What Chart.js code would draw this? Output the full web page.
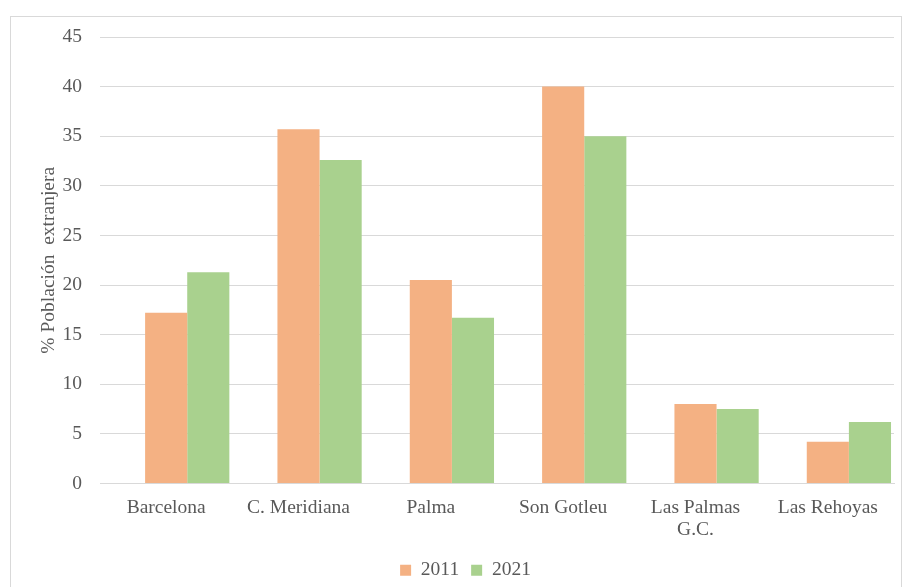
<!DOCTYPE html>
<html>
<head>
<meta charset="utf-8">
<script src="https://cdn.jsdelivr.net/npm/chart.js@4"></script>
<style>
  html, body { margin: 0; padding: 0; background: #fff; }
  #wrap { position: relative; width: 905px; height: 587px; overflow: hidden; }
  #frame { position: absolute; left: 10px; top: 16px; width: 892px; height: 600px; border: 1px solid #d9d9d9; box-sizing: border-box; }
  canvas { position: absolute; left: 0; top: 0; }
</style>
</head>
<body>
<div id="wrap">
  <div id="frame"></div>
  <canvas id="chart" width="905" height="587"></canvas>
</div>
<script>
// barrios y porcentaje de población extranjera
const categories = ['Barcelona', 'C. Meridiana', 'Palma', 'Son Gotleu', ['Las Palmas', 'G.C.'], 'Las Rehoyas'];
const values2011 = [17.2, 35.7, 20.5, 40.0, 8.0, 4.2];
const values2021 = [21.3, 32.6, 16.7, 35.0, 7.5, 6.2];
const emptySeries = [null, null, null, null, null, null]; // la serie vacía que desplaza las barras
const yTicks = [0, 5, 10, 15, 20, 25, 30, 35, 40, 45];

const textColor = '#595959';
const serif = "'Liberation Serif', 'Times New Roman', serif";
const fontSize = 19.5;

const ctx = document.getElementById('chart').getContext('2d');

new Chart(ctx, {
    type: 'bar',
    data: {
        labels: categories,
        datasets: [
            { label: '', data: emptySeries, backgroundColor: 'rgba(0,0,0,0)' },
            { label: '2011', data: values2011, backgroundColor: '#F4B183' },
            { label: '2021', data: values2021, backgroundColor: '#A9D18E' }
        ]
    },
    options: {
        responsive: false,
        animation: false,
        layout: { padding: { left: 37, right: 11, top: 37, bottom: -3 } },
        datasets: {
            bar: { categoryPercentage: 0.955, barPercentage: 1.0 }
        },
        plugins: {
            legend: {
                position: 'bottom',
                labels: {
                    filter: item => item.text !== '',
                    boxWidth: 11,
                    boxHeight: 11,
                    padding: 12,
                    color: textColor,
                    font: { family: serif, size: fontSize }
                }
            },
            tooltip: { enabled: false }
        },
        scales: {
            x: {
                grid: { display: false },
                border: { color: '#d9d9d9', width: 1 },
                ticks: {
                    color: textColor,
                    font: { family: serif, size: fontSize, lineHeight: 1.15 },
                    maxRotation: 0,
                    padding: 5
                },
                afterFit: scale => { scale.height = 65; }
            },
            y: {
                min: 0,
                max: 45,
                afterBuildTicks: scale => { scale.ticks = yTicks.map(v => ({ value: v })); },
                grid: { color: '#d9d9d9', drawTicks: false },
                border: { display: false },
                ticks: {
                    color: textColor,
                    font: { family: serif, size: fontSize },
                    padding: 18
                },
                title: {
                    display: true,
                    text: '% Población  extranjera',
                    color: textColor,
                    font: { family: serif, size: fontSize },
                    padding: 0
                },
                afterFit: scale => { scale.width = 63; }
            }
        }
    }
});
</script>
</body>
</html>
